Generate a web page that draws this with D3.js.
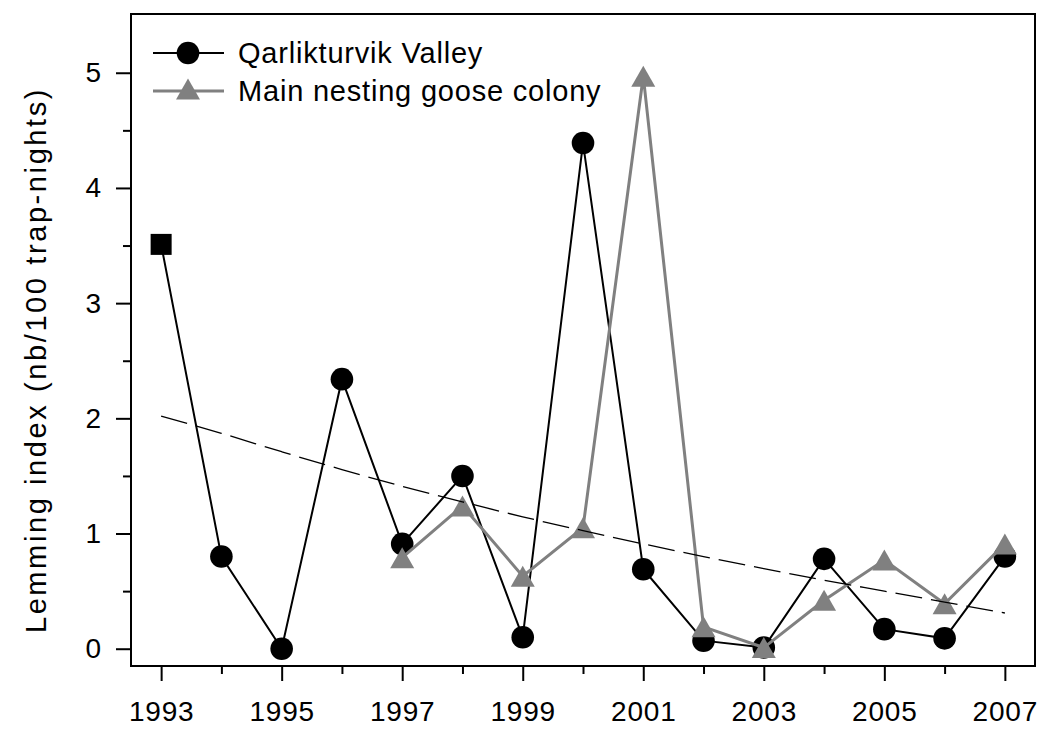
<!DOCTYPE html>
<html>
<head>
<meta charset="utf-8">
<script src="https://cdn.jsdelivr.net/npm/d3@7"></script>
<style>
  body { margin: 0; background: #fff; }
  text { font-family: "Liberation Sans", Arial, Helvetica, sans-serif; fill: #000; }
</style>
</head>
<body>
<div id="chart"></div>
<script>
// data
var years = [1993, 1994, 1995, 1996, 1997, 1998, 1999, 2000, 2001, 2002, 2003, 2004, 2005, 2006, 2007];
var qarlikturvik = [3.51, 0.80, 0.00, 2.34, 0.91, 1.50, 0.10, 4.39, 0.69, 0.07, 0.01, 0.78, 0.17, 0.09, 0.80];
var squareYears = [1993];
var colonyYears = [1997, 1998, 1999, 2000, 2001, 2002, 2003, 2004, 2005, 2006, 2007];
var colony = [0.79, 1.24, 0.63, 1.05, 4.97, 0.19, 0.01, 0.42, 0.77, 0.39, 0.91];
var trend = [2.02, 1.87, 1.71, 1.555, 1.41, 1.275, 1.145, 1.025, 0.91, 0.80, 0.695, 0.595, 0.50, 0.405, 0.31];
var xTickLabels = [1993, 1995, 1997, 1999, 2001, 2003, 2005, 2007];
var yTickLabels = [0, 1, 2, 3, 4, 5];
var seriesNames = ["Qarlikturvik Valley", "Main nesting goose colony"];

var width = 1042, height = 730;
var margin = {top: 14, right: 7, bottom: 64, left: 131};

var svg = d3.select("#chart").append("svg")
    .attr("width", width)
    .attr("height", height);

var x = d3.scaleLinear()
    .domain([1992.5, 2007.5])
    .range([margin.left, width - margin.right]);

var y = d3.scaleLinear()
    .domain([-0.15, 5.51])
    .range([height - margin.bottom, margin.top]);

// axes: major and minor ticks, outside
var xMinor = d3.range(1993, 2008).filter(function(d) { return xTickLabels.indexOf(d) < 0; });
var yMinor = d3.range(0.5, 5.5, 1);

function axisStyle(g) {
    g.select(".domain").remove();
    g.selectAll("line").attr("stroke", "#000").attr("stroke-width", 2);
    g.selectAll("text").style("font-size", "28px");
}

svg.append("g")
    .attr("transform", "translate(0," + (height - margin.bottom) + ")")
    .call(d3.axisBottom(x).tickValues(xTickLabels).tickFormat(d3.format("d")).tickSize(15).tickPadding(20))
    .call(axisStyle)
    .selectAll("text").attr("letter-spacing", "0.8px");

svg.append("g")
    .attr("transform", "translate(0," + (height - margin.bottom) + ")")
    .call(d3.axisBottom(x).tickValues(xMinor).tickFormat("").tickSize(8))
    .call(axisStyle);

svg.append("g")
    .attr("transform", "translate(" + margin.left + ",0)")
    .call(d3.axisLeft(y).tickValues(yTickLabels).tickFormat(d3.format("d")).tickSize(15).tickPadding(15))
    .call(axisStyle);

svg.append("g")
    .attr("transform", "translate(" + margin.left + ",0)")
    .call(d3.axisLeft(y).tickValues(yMinor).tickFormat("").tickSize(8))
    .call(axisStyle);

// frame
svg.append("rect")
    .attr("x", margin.left)
    .attr("y", margin.top)
    .attr("width", width - margin.left - margin.right)
    .attr("height", height - margin.top - margin.bottom)
    .attr("fill", "none")
    .attr("stroke", "#000")
    .attr("stroke-width", 2);

// y title
svg.append("text")
    .attr("transform", "translate(46," + 360 + ") rotate(-90)")
    .attr("text-anchor", "middle")
    .attr("letter-spacing", "2.6px")
    .style("font-size", "29px")
    .text("Lemming index (nb/100 trap-nights)");

var line = d3.line()
    .x(function(d) { return x(d[0]); })
    .y(function(d) { return y(d[1]); });

var triPath = "M0,-10.5L12,10.5L-12,10.5Z";

// Qarlikturvik Valley
var qData = years.map(function(d, i) { return [d, qarlikturvik[i]]; });
svg.append("path")
    .datum(qData)
    .attr("d", line)
    .attr("fill", "none")
    .attr("stroke", "#000")
    .attr("stroke-width", 2);

svg.selectAll(".q-circle")
    .data(qData.filter(function(d) { return squareYears.indexOf(d[0]) < 0; }))
    .enter().append("circle")
    .attr("class", "q-circle")
    .attr("cx", function(d) { return x(d[0]); })
    .attr("cy", function(d) { return y(d[1]); })
    .attr("r", 11.3)
    .attr("fill", "#000");

svg.selectAll(".q-square")
    .data(qData.filter(function(d) { return squareYears.indexOf(d[0]) >= 0; }))
    .enter().append("rect")
    .attr("class", "q-square")
    .attr("x", function(d) { return x(d[0]) - 10.5; })
    .attr("y", function(d) { return y(d[1]) - 10.5; })
    .attr("width", 21)
    .attr("height", 21)
    .attr("fill", "#000");

// Main nesting goose colony
var cData = colonyYears.map(function(d, i) { return [d, colony[i]]; });
svg.append("path")
    .datum(cData)
    .attr("d", line)
    .attr("fill", "none")
    .attr("stroke", "#808080")
    .attr("stroke-width", 3);

svg.selectAll(".c-tri")
    .data(cData)
    .enter().append("path")
    .attr("class", "c-tri")
    .attr("d", triPath)
    .attr("transform", function(d) { return "translate(" + x(d[0]) + "," + y(d[1]) + ")"; })
    .attr("fill", "#808080");

// trend
svg.append("path")
    .datum(years.map(function(d, i) { return [d, trend[i]]; }))
    .attr("d", line.curve(d3.curveMonotoneX))
    .attr("fill", "none")
    .attr("stroke", "#000")
    .attr("stroke-width", 1.3)
    .attr("stroke-dasharray", "27,9");

// legend
var legend = svg.append("g");
var rows = [53, 91];
legend.append("line")
    .attr("x1", 153).attr("x2", 224).attr("y1", rows[0]).attr("y2", rows[0])
    .attr("stroke", "#000").attr("stroke-width", 2);
legend.append("circle")
    .attr("cx", 188).attr("cy", rows[0]).attr("r", 11.3).attr("fill", "#000");
legend.append("line")
    .attr("x1", 153).attr("x2", 224).attr("y1", rows[1]).attr("y2", rows[1])
    .attr("stroke", "#808080").attr("stroke-width", 3);
legend.append("path")
    .attr("d", triPath)
    .attr("transform", "translate(188," + (rows[1] - 2) + ")")
    .attr("fill", "#808080");
legend.selectAll(".leg-text")
    .data(seriesNames)
    .enter().append("text")
    .attr("class", "leg-text")
    .attr("x", 238)
    .attr("y", function(d, i) { return rows[i]; })
    .attr("dy", "0.36em")
    .attr("letter-spacing", "0.8px")
    .style("font-size", "29px")
    .text(function(d) { return d; });
</script>
</body>
</html>
